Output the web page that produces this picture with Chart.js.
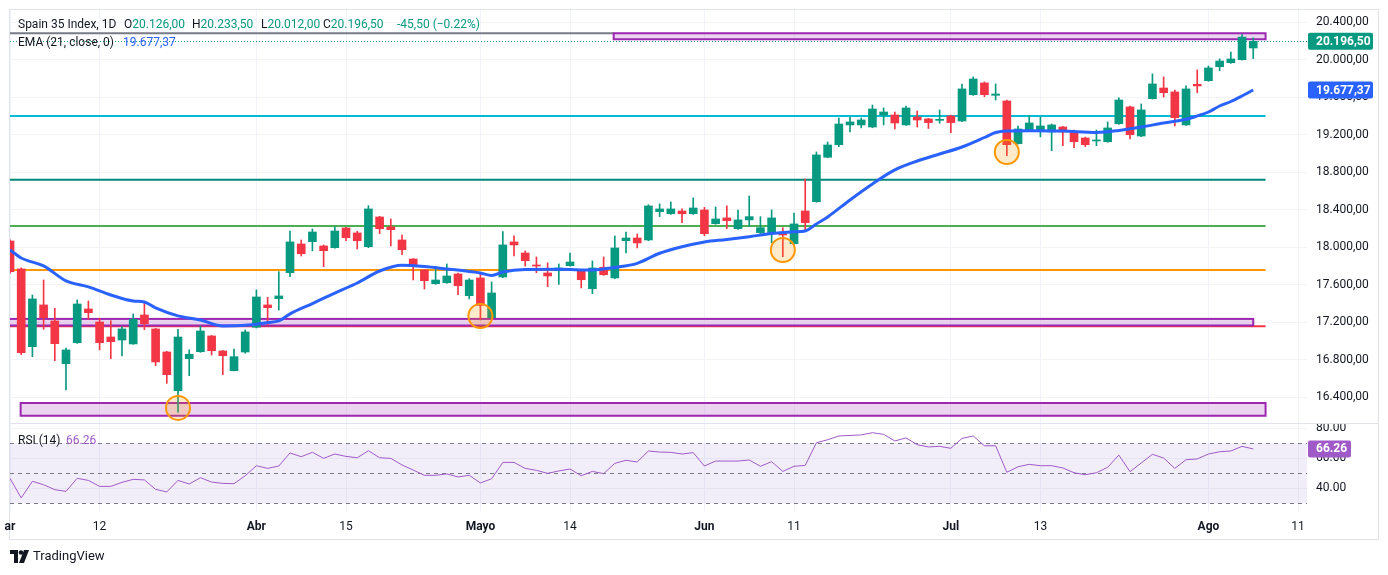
<!DOCTYPE html>
<html>
<head>
<meta charset="utf-8">
<script src="https://cdn.jsdelivr.net/npm/chart.js@4.4.1/dist/chart.umd.min.js"></script>
<style>
    body { margin: 0; background: #fff; font-family: Roboto, "Liberation Sans", sans-serif; color: #131722; }
    #wrap { position: relative; width: 1388px; height: 575px; overflow: hidden; }
    #frame { position: absolute; left: 9px; top: 9px; width: 1368px; height: 529px; border: 1px solid #e0e3eb; }
    #sep { position: absolute; left: 9px; top: 423px; width: 1369px; height: 1px; background: #e0e3eb; }
    canvas { position: absolute; left: 0; }
    .lg { position: absolute; font-size: 12px; line-height: 14px; white-space: nowrap; }
    .up { color: #089981; }
</style>
</head>
<body>
<div id="wrap">
    <div id="frame"></div>
    <canvas id="price" width="1378" height="414" style="top:10px"></canvas>
    <canvas id="rsiChart" width="1378" height="116" style="top:424px"></canvas>
    <div id="sep"></div>

    <div class="lg" style="left:18px;top:17px">Spain 35 Index, 1D</div>
    <div class="lg" style="left:124px;top:17px">O<span class="up">20.126,00</span></div>
    <div class="lg" style="left:192px;top:17px">H<span class="up">20.233,50</span></div>
    <div class="lg" style="left:261px;top:17px">L<span class="up">20.012,00</span></div>
    <div class="lg" style="left:323px;top:17px">C<span class="up">20.196,50</span></div>
    <div class="lg up" style="left:397px;top:17px">-45,50 (−0.22%)</div>
    <div class="lg" style="left:18px;top:35px">EMA (21, close, 0)</div>
    <div class="lg" style="left:123px;top:35px;color:#2962ff">19.677,37</div>
    <div class="lg" style="left:18px;top:433px">RSI (14)</div>
    <div class="lg" style="left:66px;top:433px;color:#a05ac8">66.26</div>

    <svg style="position:absolute;left:10px;top:550px" width="20" height="14" viewBox="0 0 20 14">
        <path d="M0 0h8v13H4V4H0z" fill="#131722"/>
        <circle cx="11" cy="2.5" r="2.3" fill="#131722"/>
        <path d="M14 0h5l-5 13H9z" fill="#131722"/>
    </svg>
    <div class="lg" style="left:33px;top:549px;font-size:13px">TradingView</div>
</div>

<script>
    // daily bars, index 0 = 29 Feb
    const open  = [18067,17769,16940,17385,17214,16758,16982,17342,17203,17043,17011,16969,17278,17129,16883,16470,16812,16886,17054,16894,
                   16684,16883,17147,17385,17452,17729,18035,18060,18014,17996,18206,18153,18006,18323,18217,18078,17875,17758,17612,17622,
                   17715,17484,17673,17249,17683,18057,17939,17811,17726,17750,17804,17750,17558,17787,17673,18070,18099,18078,18380,18358,
                   18387,18358,18398,18252,18313,18198,18292,18156,18145,18145,18038,18387,18486,18960,19094,19305,19305,19283,19411,19411,
                   19305,19390,19369,19354,19401,19347,19628,19753,19621,19561,19105,19241,19241,19230,19283,19230,19166,19134,19126,19318,
                   19497,19187,19585,19699,19657,19305,19739,19777,19926,19969,20001,20126];
    const high  = [18080,17780,17491,17651,17349,16926,17438,17427,17243,17217,17153,17289,17424,17135,16890,17125,16905,17161,17060,16900,
                   16915,17118,17545,17467,17740,18174,18078,18195,18025,18220,18212,18171,18444,18330,18302,18131,17880,17765,17787,17822,
                   17726,17665,17715,17630,18167,18121,17961,17897,17833,17822,17939,17758,17854,17897,18121,18163,18142,18454,18462,18483,
                   18409,18526,18426,18430,18441,18398,18547,18327,18398,18209,18366,18729,19017,19123,19379,19390,19379,19518,19486,19443,
                   19507,19454,19375,19465,19410,19742,19817,19764,19742,19571,19294,19401,19390,19315,19290,19251,19175,19251,19337,19593,
                   19505,19529,19849,19817,19678,19721,19892,19934,20009,20083,20270,20233.5];
    const low   = [17720,16854,16833,17125,16790,16478,16975,17232,16905,16812,16840,16965,17121,16737,16549,16240,16630,16880,16851,16641,
                   16680,16870,17140,17171,17331,17686,17907,17961,17793,17990,18070,17982,17996,18145,18014,17921,17651,17555,17605,17615,
                   17494,17449,17225,17240,17676,17907,17800,17729,17580,17605,17798,17566,17505,17700,17665,17939,17993,18070,18327,18350,
                   18262,18350,18124,18245,18198,18190,18220,18124,18049,17900,18030,18166,18480,18955,19073,19230,19273,19275,19305,19262,
                   19300,19283,19267,19323,19222,19340,19620,19606,19571,18977,19100,19235,19177,19030,19084,19062,19073,19084,19120,19310,
                   19155,19180,19580,19603,19294,19300,19649,19770,19884,19962,19995,20012];
    const close = [17740,16876,17449,17249,16972,16905,17395,17302,16982,16993,17129,17232,17185,16777,16641,17043,16859,17107,16897,16844,
                   16833,17097,17470,17356,17481,18057,17932,18163,17964,18174,18102,18070,18409,18198,18188,17974,17804,17644,17651,17694,
                   17590,17651,17381,17513,18025,18025,17857,17800,17694,17779,17843,17654,17779,17708,17993,18099,18046,18441,18409,18409,
                   18358,18419,18145,18302,18284,18292,18327,18209,18313,18131,18249,18262,18985,19091,19315,19337,19358,19475,19443,19326,
                   19486,19358,19330,19365,19330,19689,19795,19628,19635,19094,19262,19326,19294,19305,19230,19126,19094,19145,19273,19571,
                   19201,19465,19742,19649,19382,19689,19721,19913,19987,20009,20242,20196.5];

    // EMA 21 at these bars
    const emaIdx = [0,1,3,5,7,9,11,12,13,15,17,19,21,23,24,25,27,29,31,33,35,37,39,41,42,43,44,46,49,52,54,56,58,60,62,64,66,68,
                    70,71,72,73,75,77,79,81,83,85,87,88,89,91,94,97,99,101,103,105,106,107,108,109,110,111];
    const emaVal = [17971,17886,17801,17642,17577,17491,17427,17417,17353,17268,17225,17161,17168,17198,17214,17289,17400,17512,17619,17747,
                    17808,17795,17769,17742,17726,17699,17737,17763,17765,17758,17785,17829,17936,18006,18057,18083,18113,18147,
                    18166,18174,18249,18323,18505,18675,18825,18920,18995,19070,19171,19225,19241,19244,19241,19225,19246,19283,19326,
                    19365,19401,19443,19507,19555,19614,19677.37];

    const rsi = [46.7,33.6,44.7,42.4,39.1,38.0,46.7,45.3,41.3,41.3,44.0,46.0,45.6,39.3,37.6,45.3,42.9,47.1,44.2,43.3,
                 43.1,48.4,55.1,53.3,54.9,63.6,61.1,64.0,60.0,62.9,61.3,60.4,65.1,60.4,60.0,55.6,52.2,48.7,48.7,49.6,
                 47.6,48.7,43.6,46.4,57.3,57.3,53.3,52.0,50.0,51.6,52.9,48.4,51.3,49.8,56.7,58.7,57.6,64.9,64.2,64.0,
                 62.9,63.8,54.9,58.2,58.2,58.2,58.9,54.7,57.8,51.3,54.7,55.3,70.4,72.4,74.9,75.3,75.6,77.1,76.0,71.6,
                 73.6,69.1,67.6,68.0,66.7,73.3,74.9,68.4,68.4,50.7,54.4,56.0,55.1,55.1,53.6,50.4,49.1,50.4,54.0,62.2,
                 51.1,56.9,62.7,60.2,53.3,59.1,59.6,62.9,64.4,64.9,68.0,66.26];

    const tickIdx  = [0, 8, 22, 30, 42, 50, 62, 70, 84, 92, 107, 115];
    const tickText = ['ar', '12', 'Abr', '15', 'Mayo', '14', 'Jun', '11', 'Jul', '13', 'Ago', '11'];
    const monthTicks = ['ar', 'Abr', 'Mayo', 'Jun', 'Jul', 'Ago'];
    const priceTicks = [16400, 16800, 17200, 17600, 18000, 18400, 18800, 19200, 19600, 20000, 20400];
    const rsiTicks = [40, 60, 80];

    // chart drawings (price levels, bar index ranges)
    const levels = [
        {v: 20283, from: -1, to: 53.9, color: '#787b86'},
        {v: 19400, from: -1, to: 112.1, color: '#00bcd4'},
        {v: 18720, from: -1, to: 112.1, color: '#00897b'},
        {v: 18228, from: -1, to: 112.1, color: '#4caf50'},
        {v: 17757, from: -1, to: 112.1, color: '#ff9800'},
        {v: 17158, from: -1, to: 112.1, color: '#f23645'}
    ];
    const boxes = [
        {top: 20283, bottom: 20219, from: 53.9, to: 112.1},
        {top: 17236, bottom: 17166, from: -1, to: 111},
        {top: 16339, bottom: 16203, from: 0.95, to: 112.1}
    ];
    const marks = [{i: 15, v: 16287}, {i: 42, v: 17267}, {i: 69, v: 17971}, {i: 89, v: 19017}];

    const UP = '#089981', DOWN = '#f23645';
    const lastPrice = close[close.length - 1];
    const lastEma = emaVal[emaVal.length - 1];

    function fmtEs(v) {
        const p = v.toFixed(2).split('.');
        return p[0].replace(/\B(?=(\d{3})+(?!\d))/g, '.') + ',' + p[1];
    }

    const colors = close.map((c, i) => c >= open[i] ? UP : DOWN);
    const bodies = close.map((c, i) => ({x: i, y: [open[i], c]}));
    const wicks = close.map((c, i) => ({x: i, y: [low[i], high[i]]}));

    function labelBox(ctx, x, y, w, bg, text) {
        ctx.fillStyle = bg;
        ctx.beginPath();
        ctx.roundRect(x, y - 8.5, w, 17, 2);
        ctx.fill();
        ctx.fillStyle = '#fff';
        ctx.font = 'bold 12px Roboto';
        ctx.textBaseline = 'middle';
        ctx.textAlign = 'left';
        ctx.fillText(text, x + 8, y + 0.5);
    }

    const drawings = {
        id: 'drawings',
        beforeDatasetsDraw(chart) {
            const {ctx, chartArea: a, scales: {x, y}} = chart;
            ctx.save();
            ctx.beginPath();
            ctx.rect(a.left, a.top, a.right - a.left, a.bottom - a.top);
            ctx.clip();
            // last price line
            ctx.strokeStyle = UP;
            ctx.lineWidth = 1;
            ctx.setLineDash([1, 2]);
            const py = Math.round(y.getPixelForValue(lastPrice)) + 0.5;
            ctx.beginPath();
            ctx.moveTo(a.left, py);
            ctx.lineTo(a.right, py);
            ctx.stroke();
            ctx.setLineDash([]);
            ctx.lineWidth = 2;
            levels.forEach(l => {
                const ly = y.getPixelForValue(l.v);
                ctx.strokeStyle = l.color;
                ctx.beginPath();
                ctx.moveTo(x.getPixelForValue(l.from), ly);
                ctx.lineTo(x.getPixelForValue(l.to), ly);
                ctx.stroke();
            });
            boxes.forEach(b => {
                const x0 = x.getPixelForValue(b.from), x1 = x.getPixelForValue(b.to);
                const y0 = y.getPixelForValue(b.top), y1 = y.getPixelForValue(b.bottom);
                ctx.fillStyle = 'rgba(156,39,176,0.2)';
                ctx.fillRect(x0, y0, x1 - x0, y1 - y0);
                ctx.strokeStyle = '#9c27b0';
                ctx.strokeRect(x0, y0, x1 - x0, y1 - y0);
            });
            ctx.restore();
        },
        afterDatasetsDraw(chart) {
            const {ctx, chartArea: a, scales: {x, y}} = chart;
            ctx.save();
            ctx.beginPath();
            ctx.rect(a.left, a.top, a.right - a.left, a.bottom - a.top);
            ctx.clip();
            marks.forEach(m => {
                ctx.beginPath();
                ctx.arc(x.getPixelForValue(m.i), y.getPixelForValue(m.v), 12, 0, Math.PI * 2);
                ctx.fillStyle = 'rgba(255,152,0,0.2)';
                ctx.fill();
                ctx.strokeStyle = '#ff9800';
                ctx.lineWidth = 2;
                ctx.stroke();
            });
            ctx.restore();
        },
        afterDraw(chart) {
            const {ctx, chartArea: a, scales: {y}} = chart;
            ctx.save();
            labelBox(ctx, a.right + 1, y.getPixelForValue(lastPrice), 65, UP, fmtEs(lastPrice));
            labelBox(ctx, a.right + 1, y.getPixelForValue(lastEma), 65, '#2962ff', fmtEs(lastEma));
            ctx.restore();
        }
    };

    const rsiBands = {
        id: 'rsiBands',
        beforeDatasetsDraw(chart) {
            const {ctx, chartArea: a, scales: {y}} = chart;
            const y70 = y.getPixelForValue(70), y50 = y.getPixelForValue(50), y30 = y.getPixelForValue(30);
            ctx.save();
            ctx.fillStyle = 'rgba(126,87,194,0.1)';
            ctx.fillRect(a.left, y70, a.right - a.left, y30 - y70);
            ctx.strokeStyle = '#787b86';
            ctx.lineWidth = 1;
            ctx.setLineDash([4, 4]);
            [y70, y50, y30].forEach(v => {
                ctx.beginPath();
                ctx.moveTo(a.left, Math.round(v) + 0.5);
                ctx.lineTo(a.right, Math.round(v) + 0.5);
                ctx.stroke();
            });
            ctx.restore();
        },
        afterDraw(chart) {
            const {ctx, chartArea: a, scales: {y}} = chart;
            const last = rsi[rsi.length - 1];
            ctx.save();
            labelBox(ctx, a.right + 1, y.getPixelForValue(last), 43, '#a05ac8', last.toFixed(2));
            ctx.restore();
        }
    };

    function xScale(extra) {
        return Object.assign({
            type: 'linear', min: 0, max: 115.8, offset: false, bounds: 'data',
            grid: {color: '#f0f3fa', drawTicks: false, offset: false},
            border: {display: false},
            afterBuildTicks: s => { s.ticks = tickIdx.map(v => ({value: v})); }
        }, extra);
    }

    new Chart('price', {
        type: 'bar',
        data: {
            datasets: [
                {type: 'line', data: emaIdx.map((i, k) => ({x: i, y: emaVal[k]})), borderColor: '#2962ff',
                 borderWidth: 3, pointRadius: 0, cubicInterpolationMode: 'monotone', order: 0},
                {data: wicks, backgroundColor: colors, barThickness: 1, grouped: false, order: 2},
                {data: bodies, backgroundColor: colors, barThickness: 8, minBarLength: 1, grouped: false, order: 1}
            ]
        },
        options: {
            responsive: false,
            animation: false,
            layout: {padding: {left: 10}},
            plugins: {legend: {display: false}, tooltip: {enabled: false}},
            scales: {
                x: xScale({
                    ticks: {display: false},
                    afterFit: s => { s.height = 0; s.paddingLeft = 0; s.paddingRight = 0; }
                }),
                y: {
                    position: 'right', min: 16115, max: 20531,
                    grid: {color: '#f2f4f8', drawTicks: false},
                    border: {display: false},
                    ticks: {padding: 9, color: '#131722', font: {family: 'Roboto', size: 12}, callback: v => fmtEs(v)},
                    afterBuildTicks: s => { s.ticks = priceTicks.map(v => ({value: v})); },
                    afterFit: s => { s.width = 71; s.paddingTop = 0; s.paddingBottom = 0; }
                }
            }
        },
        plugins: [drawings]
    });

    new Chart('rsiChart', {
        type: 'line',
        data: {
            datasets: [{data: rsi.map((v, i) => ({x: i, y: v})), borderColor: '#a05ac8', borderWidth: 1, pointRadius: 0}]
        },
        options: {
            responsive: false,
            animation: false,
            layout: {padding: {left: 10}},
            plugins: {legend: {display: false}, tooltip: {enabled: false}},
            scales: {
                x: xScale({
                    ticks: {
                        padding: 9, color: '#131722', maxRotation: 0, autoSkip: false,
                        font: c => ({family: 'Roboto', size: 12,
                            weight: c.tick && monthTicks.includes(tickText[tickIdx.indexOf(c.tick.value)]) ? 'bold' : 'normal'}),
                        callback: v => tickText[tickIdx.indexOf(v)]
                    },
                    afterFit: s => { s.height = 29; s.paddingLeft = 0; s.paddingRight = 0; }
                }),
                y: {
                    position: 'right', min: 24.9, max: 82.9,
                    grid: {color: '#f2f4f8', drawTicks: false},
                    border: {display: false},
                    ticks: {padding: 9, color: '#131722', font: {family: 'Roboto', size: 12}, callback: v => v.toFixed(2)},
                    afterBuildTicks: s => { s.ticks = rsiTicks.map(v => ({value: v})); },
                    afterFit: s => { s.width = 71; s.paddingTop = 0; s.paddingBottom = 0; }
                }
            }
        },
        plugins: [rsiBands]
    });
</script>
</body>
</html>
